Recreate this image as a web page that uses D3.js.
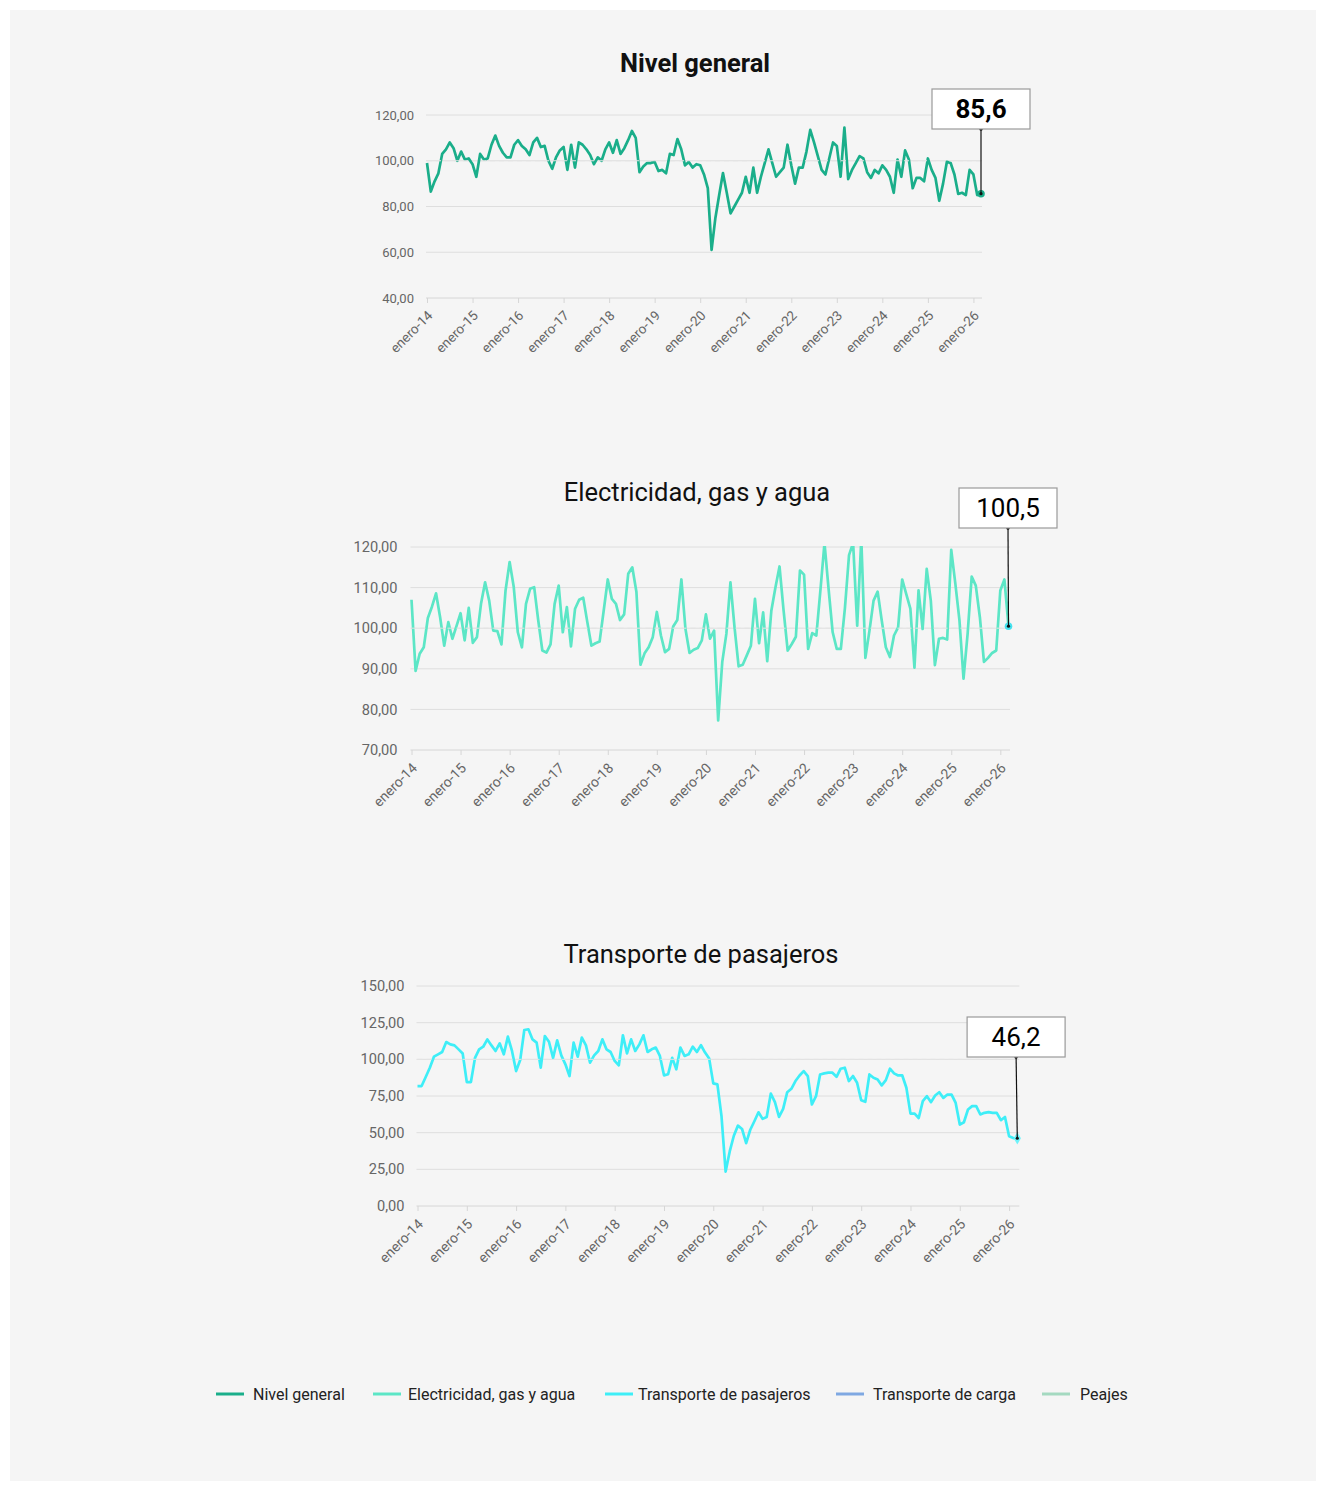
<!DOCTYPE html>
<html>
<head>
<meta charset="utf-8">
<script src="https://cdn.jsdelivr.net/npm/d3@7"></script>
<style>
  body { margin: 0; background: #ffffff; }
  svg text { font-family: Roboto, "Noto Sans", sans-serif; }
</style>
</head>
<body>
<div id="grafico"></div>
<script>
// categorias: meses de enero-14 a marzo-26
var nombresMeses = ["enero", "febrero", "marzo", "abril", "mayo", "junio", "julio",
    "agosto", "septiembre", "octubre", "noviembre", "diciembre"];
var anios = ["14", "15", "16", "17", "18", "19", "20", "21", "22", "23", "24", "25", "26"];
var etiquetasX = ["enero-14", "enero-15", "enero-16", "enero-17", "enero-18", "enero-19", "enero-20",
    "enero-21", "enero-22", "enero-23", "enero-24", "enero-25", "enero-26"];

var meses = [];
anios.forEach(function (a) {
    nombresMeses.forEach(function (m) { meses.push(m + "-" + a); });
});
meses = meses.slice(0, 147);

var nivelGeneral = [
    99, 86.5, 91, 94.5, 103, 105, 108, 105.5, 100, 104, 100.5, 101,
    98.5, 93, 103, 100.5, 101, 107, 111, 106.5, 103.5, 101.5, 101.5, 107,
    109, 106.5, 105, 102.5, 108, 110, 106, 106.5, 100, 96.5, 101.5, 104.5,
    106, 96, 107, 97, 108, 107, 105, 102.5, 98.5, 101.5, 100, 105,
    108, 103.5, 109, 103, 105.5, 109, 113, 110, 95, 97.5, 99, 99,
    99.5, 95.5, 96, 94.5, 103, 102.5, 109.5, 105, 98, 99.5, 97, 98.5,
    98, 94, 88, 61, 75, 85, 94.6, 86, 77, 80, 83, 86,
    93, 86, 97, 86, 93, 99, 105, 99, 93, 95, 97, 107,
    98, 90, 97, 97, 104, 113.5, 108, 102, 96, 94, 101, 108,
    106.5, 93, 114.5, 92, 96, 99, 102, 101, 95, 92.5, 96, 94.5,
    98, 96, 93, 86, 100.5, 93, 104.5, 100.5, 88, 92.5, 92.5, 91,
    101, 96, 92.5, 82.5, 90, 99.5, 99, 94, 85.5, 86, 85, 96,
    94, 85, 85.6
];

var electricidad = [
    107, 89.5, 93.7, 95.3, 102.5, 105.3, 108.6, 102.7, 95.7, 101.5, 97.4, 100.5,
    103.7, 97, 105, 96.4, 97.8, 106, 111.3, 106.8, 99.4, 99.3, 96, 109.3,
    116.3, 110.2, 99, 95.3, 106, 109.7, 110.1, 101.9, 94.5, 94, 96, 106,
    110.5, 99, 105.2, 95.5, 104.8, 107, 107.5, 101.5, 95.7, 96.3, 96.7, 104.3,
    112, 107.2, 106, 102, 103.4, 113.4, 115, 109, 91, 93.8, 95.3, 97.8,
    104, 98.2, 94.1, 94.9, 100.4, 102, 112, 99.8, 93.9, 94.7, 95.1, 97,
    103.4, 97.4, 99.4, 77.3, 91.7, 98.6, 111.3, 100.2, 90.6, 91, 93.3, 95.7,
    107.2, 96.3, 103.9, 91.9, 104.3, 110, 115.2, 104.3, 94.5, 96.1, 97.9, 114.2,
    113.2, 94.9, 98.8, 98.2, 109.3, 121, 109.7, 99, 94.9, 94.9, 105, 118,
    121, 100.6, 122, 92.7, 99.4, 106.8, 109, 101.9, 95.3, 92.9, 98.2, 100.2,
    112, 108.4, 104.8, 90.3, 109.3, 99.8, 114.6, 106.8, 90.9, 97.4, 97.6, 97.2,
    119.3, 111, 102, 87.6, 98.6, 112.7, 110.5, 102.7, 91.7, 92.7, 93.9, 94.5,
    109.3, 112, 100.5
];

var pasajeros = [
    81.8, 81.8, 88, 94.3, 101.8, 103.4, 105, 111.8, 110.2, 109.5, 106.8, 104,
    84.5, 84.5, 101, 106.8, 108.6, 113.6, 109.5, 105.7, 110.9, 103.4, 115.5, 105.7,
    92, 99.5, 120, 120.5, 113.6, 111.4, 94.3, 115.9, 112, 101, 112.9, 102.7,
    96.6, 88.6, 111.4, 101.8, 114.8, 109.5, 97.7, 102.7, 105.7, 113.6, 106.8, 105,
    98.9, 95.9, 116.4, 104, 113.6, 105.7, 110.2, 116.4, 105, 106.8, 108, 102.3,
    89.1, 89.8, 101, 93.2, 108, 102.3, 103.4, 108.7, 105, 109.6, 104.6, 100.5,
    83.6, 82.9, 61.2, 23.5, 37.2, 47.9, 54.8, 52.5, 42.9, 52, 57.8, 63.9,
    59.4, 60.7, 76.7, 70.8, 60.7, 66.2, 77.6, 79.9, 85.2, 89, 92, 88.6,
    69.2, 74.9, 89.7, 90.4, 90.9, 90.9, 88.1, 93.6, 94.3, 85.2, 88.6, 84,
    72.1, 71, 89.7, 87.4, 86.3, 82.2, 85.8, 93.6, 90.4, 89, 89, 80.6,
    63, 63, 60, 71.5, 74.9, 70.8, 75.3, 77.6, 73.7, 76, 76, 70.3,
    55.5, 57.1, 65.8, 68.1, 68.1, 62.4, 63.5, 64, 63.5, 63.5, 58.5, 60.7,
    47.5, 46.3, 46.2
];

var ticksNivel = [40, 60, 80, 100, 120];
var ticksElectricidad = [70, 80, 90, 100, 110, 120];
var ticksPasajeros = [0, 25, 50, 75, 100, 125, 150];

var leyendaNombres = ["Nivel general", "Electricidad, gas y agua", "Transporte de pasajeros",
    "Transporte de carga", "Peajes"];
var leyendaColores = ["#1aae8a", "#5ce6c6", "#3eeef7", "#7fa8e2", "#a4d9c0"];

var width = 1326;
var height = 1491;

var locale = d3.formatLocale({decimal: ",", thousands: ".", grouping: [3], currency: ["$", ""]});
var fmtEje = locale.format(".2f");
var fmtValor = locale.format(".1f");

var svg = d3.select("#grafico")
    .append("svg")
    .attr("width", width)
    .attr("height", height);

svg.append("rect")
    .attr("x", 10).attr("y", 10)
    .attr("width", width - 20).attr("height", height - 20)
    .style("fill", "#f5f5f5");

function plot(cfg) {
    var x = d3.scalePoint().domain(meses).range([cfg.x0, cfg.xLast]);
    var y = d3.scaleLinear()
        .domain([cfg.ticks[0], cfg.ticks[cfg.ticks.length - 1]])
        .range([cfg.yBottom, cfg.yTop]);

    var g = svg.append("g");

    // titulo
    g.append("text")
        .attr("x", cfg.titleX)
        .attr("y", cfg.titleY)
        .attr("text-anchor", "middle")
        .style("font-size", "25.5px")
        .style("font-weight", cfg.titleBold ? "700" : "400")
        .style("fill", "#111")
        .text(cfg.titulo);

    // grilla
    g.selectAll(".grid")
        .data(cfg.ticks.slice(1))
        .enter()
        .append("line")
        .attr("class", "grid")
        .attr("x1", cfg.x0 - 1)
        .attr("x2", cfg.x1)
        .attr("y1", function (d) { return y(d); })
        .attr("y2", function (d) { return y(d); })
        .style("stroke", "#dedede")
        .style("stroke-width", 1);

    g.selectAll(".ylab")
        .data(cfg.ticks)
        .enter()
        .append("text")
        .attr("class", "ylab")
        .attr("x", cfg.x0 - cfg.labelGap)
        .attr("y", function (d) { return y(d); })
        .attr("dy", "0.35em")
        .attr("text-anchor", "end")
        .style("font-size", cfg.fontSize + "px")
        .style("fill", "#666")
        .text(function (d) { return fmtEje(d); });

    // eje x
    var ejeX = g.append("g")
        .attr("transform", "translate(0," + cfg.yBottom + ")")
        .call(d3.axisBottom(x).tickValues(etiquetasX).tickSize(5).tickSizeOuter(0));
    ejeX.select(".domain")
        .attr("d", "M" + (cfg.x0 - 1) + ",0H" + cfg.x1)
        .style("stroke", "#d6d6d6");
    ejeX.selectAll(".tick line").style("stroke", "#d6d6d6");
    ejeX.selectAll(".tick text")
        .attr("x", 0).attr("y", 0).attr("dy", "0.3em")
        .attr("transform", "translate(3," + (cfg.xFont + 2) + ") rotate(-45)")
        .attr("text-anchor", "end")
        .style("font-family", "Roboto, sans-serif")
        .style("font-size", cfg.xFont + "px")
        .style("fill", "#666");

    // serie
    var clipId = "clip-" + cfg.id;
    svg.append("clipPath").attr("id", clipId)
        .append("rect")
        .attr("x", cfg.x0 - 5).attr("y", cfg.yTop - 1)
        .attr("width", cfg.x1 - cfg.x0 + 15)
        .attr("height", cfg.yBottom - cfg.yTop + 1);

    var linea = d3.line()
        .x(function (d, i) { return x(meses[i]); })
        .y(function (d) { return y(d); });

    g.append("path")
        .datum(cfg.valores)
        .attr("clip-path", "url(#" + clipId + ")")
        .attr("d", linea)
        .style("fill", "none")
        .style("stroke", cfg.color)
        .style("stroke-width", 2.7)
        .style("stroke-linejoin", "round");

    // referencia 100
    g.append("line")
        .attr("x1", cfg.x0).attr("x2", cfg.x1)
        .attr("y1", y(100)).attr("y2", y(100))
        .style("stroke", "#e4e4e4")
        .style("stroke-width", 1)
        .style("stroke-dasharray", "5,4");

    // ultimo valor
    var n = cfg.valores.length - 1;
    var px = x(meses[n]);
    var py = y(cfg.valores[n]);
    g.append("path")
        .attr("transform", "translate(" + px + "," + py + ")")
        .attr("d", d3.symbol().type(cfg.simbolo).size(45))
        .style("fill", cfg.puntoColor);

    var bw = 98, bh = 40;
    var lx = px - cfg.boxShift;
    g.append("line")
        .attr("x1", lx).attr("x2", px)
        .attr("y1", cfg.boxY + bh).attr("y2", py)
        .style("stroke", "#111")
        .style("stroke-width", 1.2);
    g.append("circle").attr("cx", lx).attr("cy", cfg.boxY + bh).attr("r", 1.8).style("fill", "#111");
    g.append("circle").attr("cx", px).attr("cy", py).attr("r", 1.6).style("fill", "#111");

    g.append("rect")
        .attr("x", lx - bw / 2).attr("y", cfg.boxY)
        .attr("width", bw).attr("height", bh)
        .style("fill", "#ffffff")
        .style("stroke", "#9a9a9a")
        .style("stroke-width", 1.2);
    g.append("text")
        .attr("x", lx).attr("y", cfg.boxY + bh / 2)
        .attr("dy", "0.36em")
        .attr("text-anchor", "middle")
        .style("font-size", "26px")
        .style("font-weight", cfg.titleBold ? "700" : "400")
        .style("fill", "#000")
        .text(fmtValor(cfg.valores[n]));
}

plot({id: "nivel", titulo: "Nivel general", titleBold: true, titleX: 695, titleY: 72,
    valores: nivelGeneral, ticks: ticksNivel, color: leyendaColores[0],
    puntoColor: "#1aae8a", simbolo: d3.symbolCircle,
    x0: 427, xLast: 981, x1: 982, yTop: 115, yBottom: 298,
    fontSize: 13, xFont: 13.5, labelGap: 13, boxY: 89, boxShift: 0});

plot({id: "elec", titulo: "Electricidad, gas y agua", titleBold: false, titleX: 697, titleY: 501,
    valores: electricidad, ticks: ticksElectricidad, color: leyendaColores[1],
    puntoColor: "#44e2ef", simbolo: d3.symbolCircle,
    x0: 411.5, xLast: 1008.5, x1: 1010, yTop: 547, yBottom: 750,
    fontSize: 14.6, xFont: 14, labelGap: 14, boxY: 488, boxShift: 0.5});

plot({id: "pasaj", titulo: "Transporte de pasajeros", titleBold: false, titleX: 701, titleY: 963,
    valores: pasajeros, ticks: ticksPasajeros, color: leyendaColores[2],
    puntoColor: "#6ff3fa", simbolo: d3.symbolDiamond,
    x0: 417.5, xLast: 1017.3, x1: 1019.3, yTop: 986, yBottom: 1206,
    fontSize: 14.6, xFont: 14, labelGap: 13, boxY: 1017, boxShift: 1.2});

// leyenda
var leyendaX = [216, 373, 605, 836, 1042];
var leyendaTextoX = [253, 408, 638, 873, 1080];
var leyenda = svg.append("g").attr("transform", "translate(0,1394)");
leyendaNombres.forEach(function (nombre, i) {
    leyenda.append("line")
        .attr("x1", leyendaX[i]).attr("x2", leyendaX[i] + 28)
        .attr("y1", 0).attr("y2", 0)
        .style("stroke", leyendaColores[i])
        .style("stroke-width", 3);
    leyenda.append("text")
        .attr("x", leyendaTextoX[i])
        .attr("y", 0)
        .attr("dy", "0.35em")
        .style("font-size", "16px")
        .style("fill", "#222")
        .text(nombre);
});
</script>
</body>
</html>
